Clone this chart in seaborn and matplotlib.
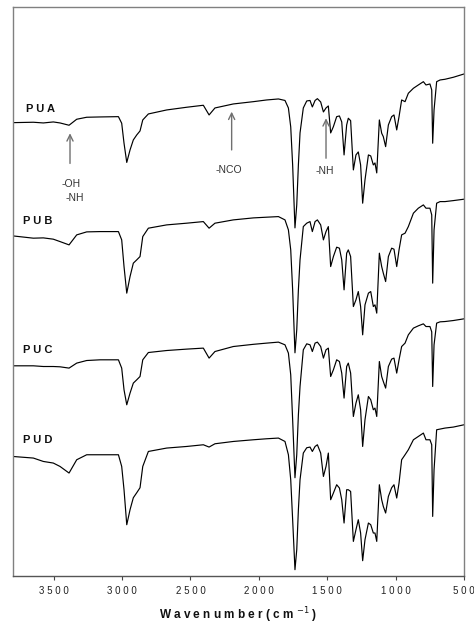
import matplotlib
matplotlib.use("Agg")
import matplotlib.pyplot as plt
import seaborn as sns
import pandas as pd

# ---- data (wavenumber in cm-1, transmittance in arbitrary stacked units) ----
wavenumber = [3800, 3649, 3576, 3503, 3454, 3388, 3332, 3259, 3161, 3027,
              3003, 2986, 2966, 2942, 2918, 2893, 2869, 2849, 2808, 2674,
              2528, 2406, 2364, 2321, 2187, 2040, 1943, 1857, 1809, 1784,
              1767, 1753, 1736, 1723, 1711, 1699, 1675, 1650, 1626, 1609,
              1589, 1572, 1548, 1528, 1509, 1492, 1475, 1455, 1431, 1411,
              1394, 1377, 1358, 1346, 1329, 1309, 1290, 1273, 1256, 1241,
              1224, 1199, 1182, 1163, 1151, 1138, 1119, 1102, 1090, 1073,
              1053, 1029, 1012, 992, 975, 956, 931, 907, 870, 834,
              797, 778, 749, 736, 729, 719, 700, 675, 639, 578,
              500]

pua = [453.3, 453.7, 453, 454, 453, 450.7, 456.7, 458.7, 459, 459.3,
       452.7, 432.7, 413.5, 426, 436, 441, 445, 456, 462, 466,
       468.7, 470.7, 461, 468, 472, 474.3, 476, 477, 475.5, 468,
       449, 411, 348, 371, 411, 443, 468, 475, 475.5, 469,
       475.5, 477.3, 474, 464, 468, 470, 443, 449.3, 459.3, 460,
       454, 421, 451, 457.7, 455.3, 406, 421, 424, 411, 372.7,
       396, 421, 420, 411, 413, 403, 456, 442.7, 439.3, 429.3,
       451, 459.3, 461, 446, 459.3, 476, 474.3, 482.7, 487.7, 491,
       494.3, 491, 492, 486, 432.7, 466, 494.3, 496, 496.7, 498.7,
       502]

pub = [340, 337.7, 338, 336.7, 334.3, 331, 341, 344, 344.3, 344.3,
       336, 309.3, 282.7, 299.3, 312.7, 316, 319.3, 339.3, 347.7, 351,
       352.7, 354.3, 347.7, 352.7, 356, 358, 358.7, 359.3, 356, 346,
       326, 286, 223, 246, 286, 316, 349.3, 352.7, 354.3, 344.3,
       354.3, 356, 351, 336, 344.3, 349.3, 309.3, 319.3, 328.7, 327.7,
       316, 286, 322.7, 326, 319.3, 269.3, 276, 284.3, 269.3, 241,
       271, 282.7, 284.3, 269.3, 271, 262.7, 322.7, 309.3, 302.7, 294.3,
       319.3, 327.7, 326.7, 309.3, 326, 341, 342.7, 349.3, 362.7, 367.7,
       371, 367.7, 367.7, 361, 292.7, 346, 372.7, 374.3, 374.3, 375.3,
       376.7]

puc = [210, 210, 209.3, 209.3, 209, 207.7, 212.7, 215.3, 216, 216,
       207.7, 186, 171, 182.7, 192.7, 196, 199.3, 216, 223.3, 225.3,
       226.7, 227.7, 217.7, 224.3, 229.3, 231.5, 232.7, 233.7, 231, 222.7,
       201, 156, 98, 121, 161, 189.3, 226, 232, 231, 224.3,
       232.7, 233.7, 229.3, 217.7, 226, 227.7, 199.3, 206, 216, 214.3,
       202.7, 177.7, 209.3, 212.7, 202.7, 159.3, 172.7, 181, 166, 129.3,
       156, 179.3, 176, 166, 167.7, 159.3, 214.3, 199.3, 194.3, 187.7,
       209.3, 216.7, 217.7, 202.7, 216, 229.3, 232.7, 241, 247.7, 250,
       252, 249.3, 249.3, 244, 189.3, 231, 252.7, 254, 254.3, 255.3,
       257]

pud = [119.3, 117.7, 114.3, 112.7, 109.3, 102.7, 116, 121, 121, 121,
       109.3, 86, 51, 66, 78, 83, 88, 109.3, 124.3, 127.7,
       129.3, 131, 128.7, 132, 134.3, 136, 137, 137.7, 134.3, 121,
       96, 56, 6, 26, 66, 96, 122.7, 128, 128.7, 124.3,
       129.3, 131, 122.7, 99.3, 109.3, 122.7, 76, 82.7, 91, 87.7,
       76, 52.7, 86, 86, 84.3, 34.3, 46, 56, 42.7, 15,
       36, 52.7, 51, 42.7, 42.7, 34.3, 91, 76, 69.3, 62.7,
       79.3, 88, 91, 77.7, 92.7, 116, 121, 126, 136, 139.3,
       142.7, 136, 136, 131, 59.3, 106, 146, 146.7, 147.7, 148.7,
       151]

sample_names = ["P U A", "P U B", "P U C", "P U D"]
label_wn = [3702, 3724, 3724, 3724]
label_t = [467, 355, 226, 136]

xticks = [3500, 3000, 2500, 2000, 1500, 1000, 500]

# annotations
ann_texts = ["-OH", "-NH", "-NCO", "-NH"]
ann_wn = [3376, 3344, 2223, 1516]
ann_t = [392, 377.7, 406, 405.3]
arrow_wn = [3381, 2199, 1509]
arrow_tail = [412.5, 426, 417.7]
arrow_tip = [442.7, 464.3, 457.7]

# ---- build figure ----
sns.set_style("white")
plt.rcParams["font.family"] = ["Liberation Sans", "DejaVu Sans"]

fig = plt.figure(figsize=(4.74, 6.25), dpi=100)
ax = fig.add_axes([0.0268, 0.0789, 0.9521, 0.9094])

series = {"PUA": pua, "PUB": pub, "PUC": puc, "PUD": pud}
frames = []
for name, vals in series.items():
    frames.append(pd.DataFrame({"wavenumber": wavenumber, "T": vals, "sample": name}))
df = pd.concat(frames, ignore_index=True)

for name in series:
    sub = df[df["sample"] == name]
    sns.lineplot(data=sub, x="wavenumber", y="T", ax=ax, color="black",
                 linewidth=0.85, sort=False, estimator=None)

ax.set_xlim(3800, 500)
ax.set_ylim(0, 568.7)
ax.set_yticks([])
ax.set_ylabel("")
ax.set_xticks(xticks)
ax.set_xticklabels([" ".join(str(t)) for t in xticks], fontsize=7, color="#222222")
ax.tick_params(axis="x", direction="out", length=3, width=0.8, pad=4.5,
               colors="#444444", labelcolor="#222222", bottom=True)
ax.set_xlabel("W a v e n u m b e r ( c m $^{-1}$ )", fontsize=8.5,
              fontweight="bold", labelpad=7, color="#111111")

for side in ["left", "top", "right"]:
    ax.spines[side].set_color("#808080")
    ax.spines[side].set_linewidth(1.0)
ax.spines["bottom"].set_color("#555555")
ax.spines["bottom"].set_linewidth(1.0)

for name, xw, yt in zip(sample_names, label_wn, label_t):
    ax.text(xw, yt, name, fontsize=8, fontweight="bold", ha="left",
            va="center", color="#111111")

for txt, xw, yt in zip(ann_texts, ann_wn, ann_t):
    ax.text(xw, yt, txt, fontsize=7.5, ha="center", va="center", color="#333333")

for xw, y0, y1 in zip(arrow_wn, arrow_tail, arrow_tip):
    ax.annotate("", xy=(xw, y1), xytext=(xw, y0),
                arrowprops=dict(arrowstyle="->,head_length=0.45,head_width=0.22",
                                color="#707070", lw=1.0,
                                shrinkA=0, shrinkB=0))

fig.savefig("out.png", dpi=100)
